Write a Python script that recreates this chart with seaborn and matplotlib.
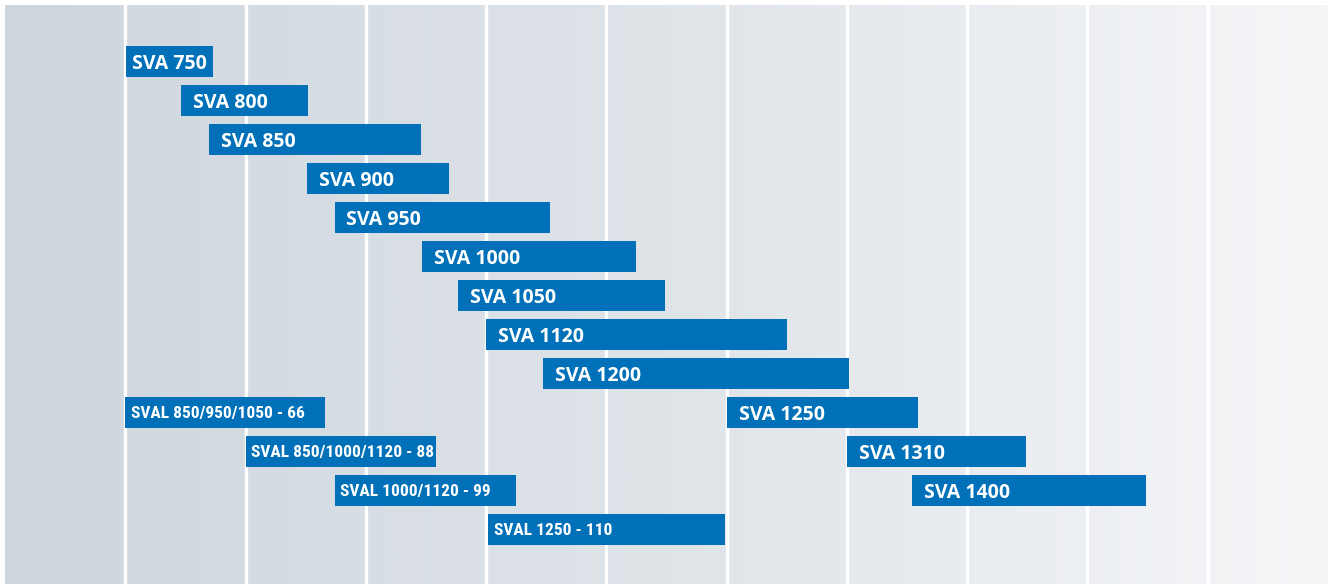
import numpy as np
import pandas as pd
import matplotlib
matplotlib.use("Agg")
import matplotlib.pyplot as plt
import matplotlib.colors as mcolors
from matplotlib import font_manager
import seaborn as sns

# bar labels, row index (top = 0) and start/end in column units
labels = ["SVA 750", "SVA 800", "SVA 850", "SVA 900", "SVA 950", "SVA 1000",
          "SVA 1050", "SVA 1120", "SVA 1200",
          "SVAL 850/950/1050 - 66", "SVAL 850/1000/1120 - 88",
          "SVAL 1000/1120 - 99", "SVAL 1250 - 110",
          "SVA 1250", "SVA 1310", "SVA 1400"]
rows = [0, 1, 2, 3, 4, 5, 6, 7, 8, 9, 10, 11, 12, 9, 10, 11]
starts = [1.01, 1.46, 1.70, 2.51, 2.74, 3.47, 3.77, 4.00, 4.47,
          1.00, 2.00, 2.74, 4.02, 6.00, 7.00, 7.54]
ends = [1.73, 2.52, 3.46, 3.69, 4.53, 5.25, 5.49, 6.50, 7.02,
        2.66, 3.58, 4.25, 5.99, 7.59, 8.49, 9.49]
grid_ticks = [1, 2, 3, 4, 5, 6, 7, 8, 9, 10]

df = pd.DataFrame({"label": labels, "row": rows, "start": starts, "end": ends})
df["width"] = df["end"] - df["start"]

sns.set_theme(style="white")
plt.rcParams["font.family"] = ["Open Sans", "DejaVu Sans"]

# narrow font for the long SVAL labels, if one is around
installed = {f.name for f in font_manager.fontManager.ttflist}
narrow = None
for name in ["Roboto Condensed", "Liberation Sans Narrow", "Open Sans Condensed",
             "DejaVu Sans Condensed"]:
    if name in installed:
        narrow = name
        break
if narrow:
    sval_font = dict(family=[narrow, "DejaVu Sans"], fontsize=12.5)
else:
    sval_font = dict(family=["Liberation Sans", "DejaVu Sans"], fontsize=11.8)

fig = plt.figure(figsize=(13.33, 5.84), dpi=100)
ax = fig.add_axes([5 / 1333, 0, 1323 / 1333, 579 / 584])

xmin, xmax = 0, 11
ymin, ymax = -1.45, 13.4

# background gradient, darker on the left
cmap = mcolors.LinearSegmentedColormap.from_list("bg", ["#ced6de", "#dfe4e9", "#f5f6f8"])
grad = np.linspace(0, 1, 512).reshape(1, -1)
ax.imshow(grad, cmap=cmap, aspect="auto", extent=[xmin, xmax, ymax, ymin], zorder=0)

ax.set_xlim(xmin, xmax)
ax.set_ylim(ymax, ymin)
ax.set_xticks(grid_ticks)
ax.set_yticks([])
ax.set_axisbelow(True)
ax.grid(axis="x", color="white", linewidth=2.4)
ax.tick_params(axis="x", length=0, labelbottom=False)
for s in ax.spines.values():
    s.set_visible(False)

ax.barh(df["row"], df["width"], left=df["start"], height=0.79,
        color="#0071b9", edgecolor="none", zorder=2)

for _, r in df.iterrows():
    is_sval = r["label"].startswith("SVAL")
    first = r["label"] == "SVA 750"
    pad = 4 if (is_sval or first) else 8.6
    if is_sval:
        ax.annotate(r["label"], (r["start"], r["row"]), xytext=(pad, 0),
                    textcoords="offset points", ha="left", va="center_baseline",
                    color="white", fontweight="bold", zorder=3, **sval_font)
    else:
        ax.annotate(r["label"], (r["start"], r["row"]), xytext=(pad, 0),
                    textcoords="offset points", ha="left", va="center_baseline",
                    color="white", fontsize=14, fontweight="bold", zorder=3)

fig.savefig("out.png", dpi=100)
